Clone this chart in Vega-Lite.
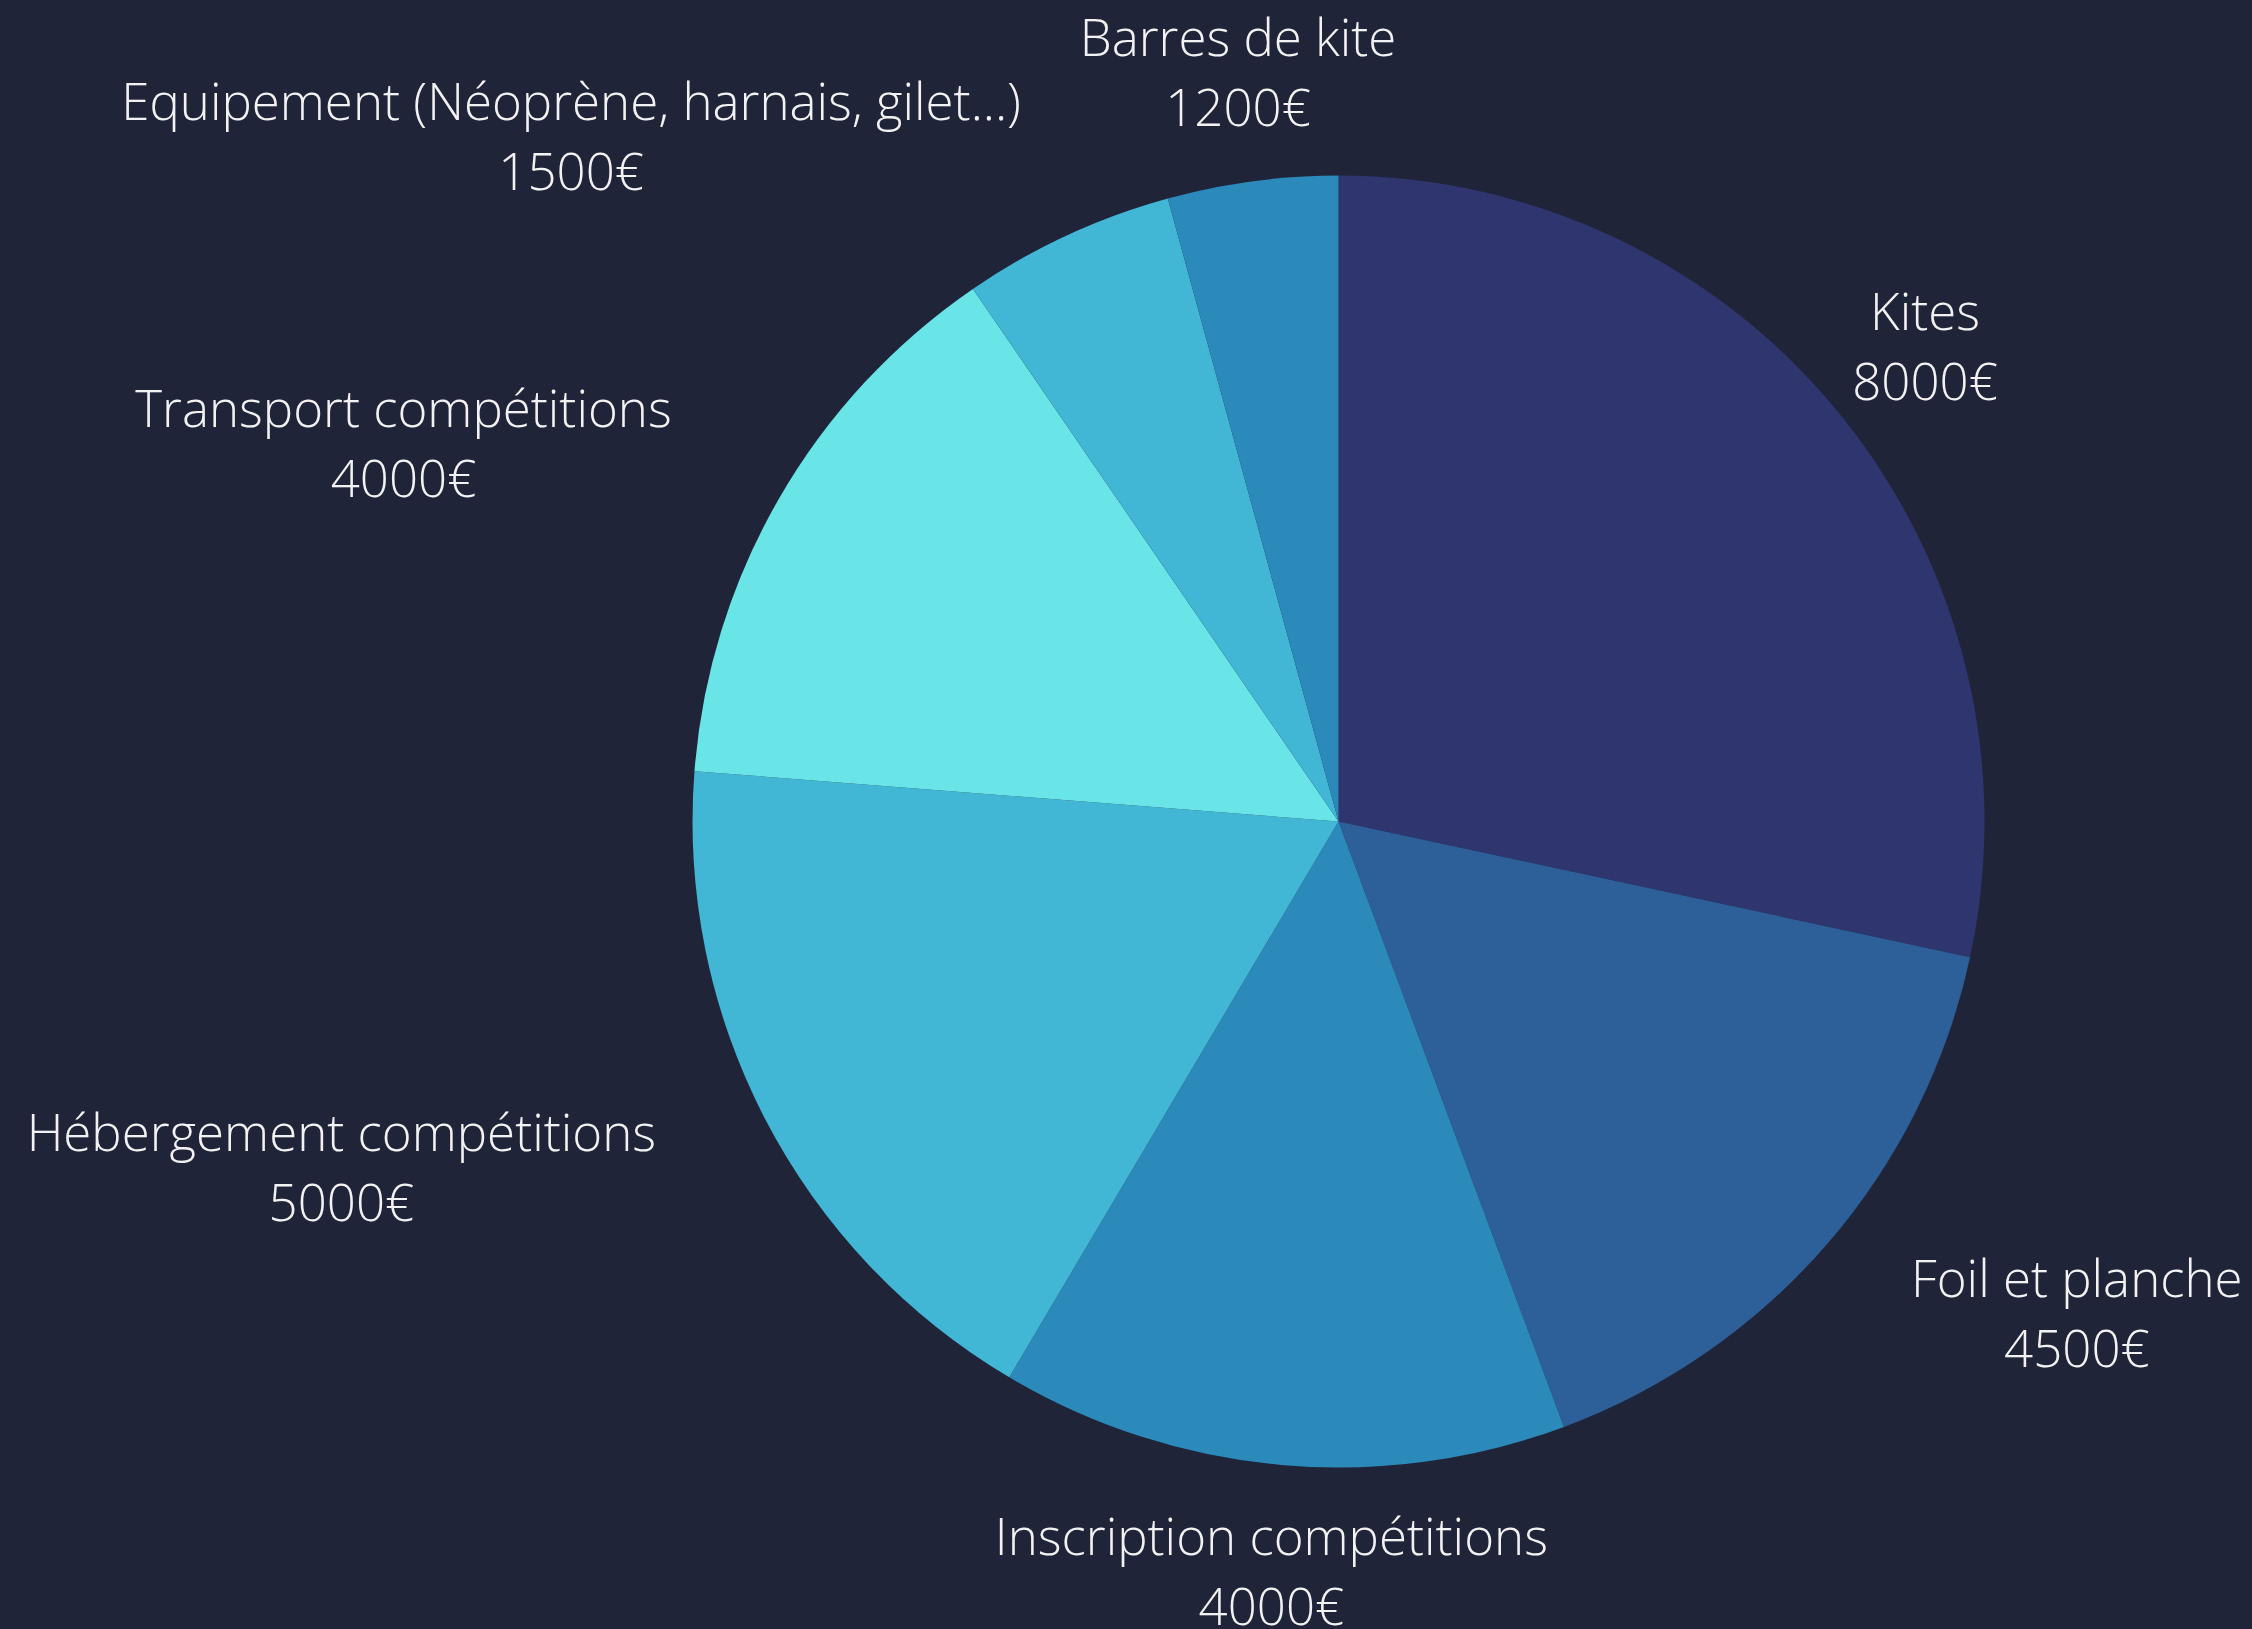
{
  "$schema": "https://vega.github.io/schema/vega-lite/v6.json",
  "autosize": "none",
  "width": 1827,
  "height": 1615,
  "padding": {"left": 425, "top": 14, "right": 0, "bottom": 0},
  "background": "#1f2439",
  "config": {"view": {"stroke": null}},
  "data": {
    "values": [
      {"rank": 1, "category": "Kites", "value": 8000},
      {"rank": 2, "category": "Foil et planche", "value": 4500},
      {"rank": 3, "category": "Inscription compétitions", "value": 4000},
      {"rank": 4, "category": "Hébergement compétitions", "value": 5000},
      {"rank": 5, "category": "Transport compétitions", "value": 4000},
      {"rank": 6, "category": "Equipement (Néoprène, harnais, gilet...)", "value": 1500},
      {"rank": 7, "category": "Barres de kite", "value": 1200}
    ]
  },
  "transform": [
    {"calculate": "[datum.category, datum.value + '€']", "as": "label"}
  ],
  "encoding": {
    "theta": {"field": "value", "type": "quantitative", "stack": true},
    "order": {"field": "rank", "type": "quantitative", "sort": "ascending"}
  },
  "layer": [
    {
      "mark": {"type": "arc", "outerRadius": 646},
      "encoding": {
        "color": {
          "field": "category",
          "type": "nominal",
          "legend": null,
          "scale": {
            "domain": ["Kites", "Foil et planche", "Inscription compétitions", "Hébergement compétitions", "Transport compétitions", "Equipement (Néoprène, harnais, gilet...)", "Barres de kite"],
            "range": ["#2f356e", "#2d5f99", "#2c8aba", "#42b6d5", "#69e5e8", "#42b6d5", "#2c8aba"]
          }
        }
      }
    },
    {
      "mark": {"type": "text", "radius": 754, "font": "Open Sans", "fontWeight": 300, "fontSize": 51, "lineHeight": 70, "color": "#f2f2f2", "align": "center", "baseline": "middle", "dy": -33},
      "encoding": {"text": {"condition": {"test": "datum.rank == 1 || datum.rank == 3 || datum.rank == 7", "field": "label"}, "value": ""}}
    },
    {
      "mark": {"type": "text", "radius": 754, "font": "Open Sans", "fontWeight": 300, "fontSize": 51, "lineHeight": 70, "color": "#f2f2f2", "align": "center", "baseline": "middle", "dy": -33, "dx": 168},
      "encoding": {"text": {"condition": {"test": "datum.rank == 2", "field": "label"}, "value": ""}}
    },
    {
      "mark": {"type": "text", "radius": 754, "font": "Open Sans", "fontWeight": 300, "fontSize": 51, "lineHeight": 70, "color": "#f2f2f2", "align": "center", "baseline": "middle", "dy": -33, "dx": -328},
      "encoding": {"text": {"condition": {"test": "datum.rank == 4", "field": "label"}, "value": ""}}
    },
    {
      "mark": {"type": "text", "radius": 754, "font": "Open Sans", "fontWeight": 300, "fontSize": 51, "lineHeight": 70, "color": "#f2f2f2", "align": "center", "baseline": "middle", "dy": -33, "dx": -282},
      "encoding": {"text": {"condition": {"test": "datum.rank == 5", "field": "label"}, "value": ""}}
    },
    {
      "mark": {"type": "text", "radius": 754, "font": "Open Sans", "fontWeight": 300, "fontSize": 51, "lineHeight": 70, "color": "#f2f2f2", "align": "center", "baseline": "middle", "dy": -33, "dx": -450},
      "encoding": {"text": {"condition": {"test": "datum.rank == 6", "field": "label"}, "value": ""}}
    }
  ]
}
